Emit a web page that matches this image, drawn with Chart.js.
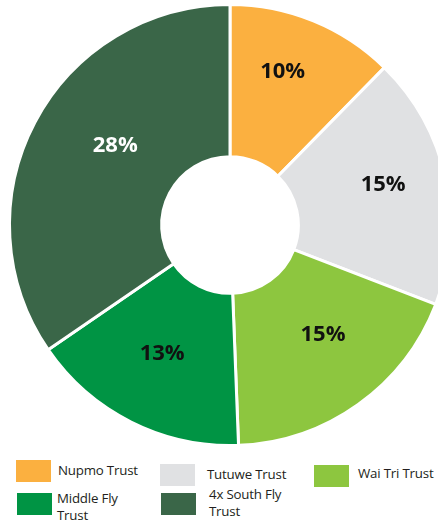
<!DOCTYPE html>
<html>
<head>
<meta charset="utf-8">
<script src="https://cdn.jsdelivr.net/npm/chart.js@4"></script>
<style>
  html, body { margin: 0; padding: 0; background: #fff; overflow: hidden; }
  body { width: 438px; height: 525px; position: relative; font-family: "Open Sans", sans-serif; color: #231f20; }
  #wrap { position: absolute; left: 0; top: 0; width: 460px; height: 450px; }
  .key { position: absolute; font-size: 13.3px; line-height: 17px; letter-spacing: -0.2px; }
  .key i { position: absolute; width: 35px; height: 22px; left: 0; }
  .key span { position: absolute; white-space: nowrap; }
</style>
</head>
<body>
<div id="wrap"><canvas id="chart"></canvas></div>

<div class="key" style="left:16px;top:460px"><i style="background:#fbb040"></i><span style="left:42px;top:2px">Nupmo Trust</span></div>
<div class="key" style="left:160px;top:464px"><i style="background:#e0e1e3"></i><span style="left:47px;top:2px">Tutuwe Trust</span></div>
<div class="key" style="left:314px;top:465px"><i style="background:#8dc63f"></i><span style="left:44px;top:0px">Wai Tri Trust</span></div>
<div class="key" style="left:17px;top:493px"><i style="background:#009444"></i><span style="left:40px;top:-3px">Middle Fly<br>Trust</span></div>
<div class="key" style="left:161px;top:493px"><i style="background:#3a6648"></i><span style="left:48px;top:-7px">4x South Fly<br>Trust</span></div>

<script>
const trusts = ["Nupmo Trust", "Tutuwe Trust", "Wai Tri Trust", "Middle Fly Trust", "4x South Fly Trust"]
const shares = [10, 15, 15, 13, 28]
const colours = ["#fbb040", "#e0e1e3", "#8dc63f", "#009444", "#3a6648"]
const labelColours = ["#111111", "#111111", "#111111", "#111111", "#ffffff"]
// small shifts so each percentage sits where it reads best in its slice
const labelNudge = [[-2, -20], [12, -10], [9, -8], [-3, 0], [13, -12]]

const percentLabels = {
  id: "percentLabels",
  afterDatasetsDraw(chart) {
    const ctx = chart.ctx
    const arcs = chart.getDatasetMeta(0).data
    ctx.save()
    ctx.font = "bold 22px 'Open Sans'"
    ctx.textAlign = "center"
    ctx.textBaseline = "middle"
    arcs.forEach((arc, i) => {
      const p = arc.tooltipPosition()
      ctx.fillStyle = labelColours[i]
      ctx.fillText(shares[i] + "%", p.x + labelNudge[i][0], p.y + labelNudge[i][1])
    })
    ctx.restore()
  }
}

const chart = new Chart("chart", {
  type: "doughnut",
  data: {
    labels: trusts,
    datasets: [{
      data: shares,
      backgroundColor: colours,
      borderColor: "#ffffff",
      borderWidth: 3
    }]
  },
  options: {
    responsive: true,
    maintainAspectRatio: false,
    animation: false,
    cutout: "31%",
    layout: {padding: 3},
    plugins: {
      legend: {display: false},
      tooltip: {enabled: false}
    }
  },
  plugins: [percentLabels]
})
</script>
</body>
</html>
